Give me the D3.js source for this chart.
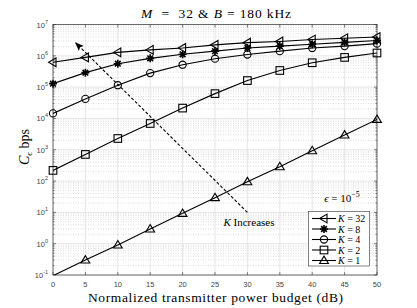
<!DOCTYPE html>
<html><head><meta charset="utf-8">
<script src="https://cdn.jsdelivr.net/npm/d3@7"></script>
<style>
body{margin:0;background:#fff;}
svg{display:block;}
</style></head>
<body>
<svg id="c" width="417" height="308"></svg>
<script>
const powerDb = [0,5,10,15,20,25,30,35,40,45,50];
const capK32 = [6.2e5,8.9e5,1.29e6,1.55e6,1.78e6,2.24e6,2.63e6,2.88e6,3.31e6,3.63e6,3.98e6];
const capK8  = [1.29e5,2.9e5,5.6e5,8.3e5,1.12e6,1.41e6,1.78e6,2.04e6,2.34e6,2.69e6,3.09e6];
const capK4  = [1.45e4,4.2e4,1.15e5,2.8e5,5.2e5,8.1e5,1.1e6,1.41e6,1.78e6,2.04e6,2.45e6];
const capK2  = [219,708,2290,6900,2.14e4,6.2e4,1.62e5,3.4e5,6.0e5,8.9e5,1.23e6];
const capK1  = [0.095,0.30,0.91,2.95,9.3,29.5,95,288,933,2950,9330];
const seriesNames = ["K = 32","K = 8","K = 4","K = 2","K = 1"];
const seriesMarkers = ["tri-left","star","circle","square","tri-up"];
const xTicks = [0,5,10,15,20,25,30,35,40,45,50];
const yTickExp = [-1,0,1,2,3,4,5,6,7];
const arrowFrom = [30, 10];
const arrowTo = [3.5, 2.6e6];

const series = [capK32,capK8,capK4,capK2,capK1];
const svg = d3.select("#c");
const L=53, R=377, T=24.5, B=275;
const x = d3.scaleLinear().domain([0,50]).range([L,R]);
const y = d3.scaleLog().domain([0.1,1e7]).range([B,T]);
const serif = "'Liberation Serif','DejaVu Serif',serif";
const sans = "'Liberation Sans',Arial,sans-serif";

function fitWidth(textSel, target){
  const node = textSel.node();
  const w = node.getComputedTextLength();
  const n = node.textContent.length;
  if (n>1) textSel.attr("letter-spacing", ((target - w)/(n-1)).toFixed(3));
}

svg.append("defs").append("clipPath").attr("id","clip")
  .append("rect").attr("x",L).attr("y",T).attr("width",R-L).attr("height",B-T);

// grid
const g = svg.append("g");
const minorVals = [];
for (let e=-1;e<7;e++) for (let m=2;m<10;m++) minorVals.push(m*Math.pow(10,e));
g.selectAll(".mg").data(minorVals).enter().append("line")
  .attr("x1",L).attr("x2",R).attr("y1",d=>y(d)).attr("y2",d=>y(d))
  .attr("stroke","#c8c8c8").attr("stroke-width",0.6).attr("stroke-dasharray","1,1.5");
g.selectAll(".gy").data(yTickExp).enter().append("line")
  .attr("x1",L).attr("x2",R).attr("y1",d=>y(Math.pow(10,d))).attr("y2",d=>y(Math.pow(10,d)))
  .attr("stroke","#e0e0e0").attr("stroke-width",0.8);
g.selectAll(".gx").data(xTicks).enter().append("line")
  .attr("y1",T).attr("y2",B).attr("x1",d=>x(d)).attr("x2",d=>x(d))
  .attr("stroke","#e0e0e0").attr("stroke-width",0.8);

// axes box & ticks
const ax = svg.append("g");
ax.append("rect").attr("x",L).attr("y",T).attr("width",R-L).attr("height",B-T)
  .attr("fill","none").attr("stroke","#333").attr("stroke-width",0.7);
xTicks.forEach(t=>{
  ax.append("line").attr("x1",x(t)).attr("x2",x(t)).attr("y1",B).attr("y2",B-3).attr("stroke","#333").attr("stroke-width",0.6);
  ax.append("line").attr("x1",x(t)).attr("x2",x(t)).attr("y1",T).attr("y2",T+3).attr("stroke","#333").attr("stroke-width",0.6);
  ax.append("text").attr("x",x(t)).attr("y",B+12).attr("text-anchor","middle")
    .attr("font-family",sans).attr("font-size",7.5).attr("fill","#444").text(t);
});
yTickExp.forEach(e=>{
  const yy=y(Math.pow(10,e));
  ax.append("line").attr("x1",L).attr("x2",L+3).attr("y1",yy).attr("y2",yy).attr("stroke","#333").attr("stroke-width",0.6);
  ax.append("line").attr("x1",R).attr("x2",R-3).attr("y1",yy).attr("y2",yy).attr("stroke","#333").attr("stroke-width",0.6);
  const t = ax.append("text").attr("x",L-5).attr("y",yy+3).attr("text-anchor","end")
    .attr("font-family",sans).attr("font-size",7.5).attr("fill","#444");
  t.append("tspan").text("10");
  t.append("tspan").attr("dy",-4).attr("font-size",5.5).text(e);
});
minorVals.forEach(v=>{
  const yy=y(v);
  ax.append("line").attr("x1",L).attr("x2",L+1.6).attr("y1",yy).attr("y2",yy).attr("stroke","#333").attr("stroke-width",0.5);
  ax.append("line").attr("x1",R).attr("x2",R-1.6).attr("y1",yy).attr("y2",yy).attr("stroke","#333").attr("stroke-width",0.5);
});

// marker drawing
function marker(sel, type, cx, cy){
  const s=4;
  if(type==="circle") sel.append("circle").attr("cx",cx).attr("cy",cy).attr("r",3.6);
  else if(type==="square") sel.append("rect").attr("x",cx-3.8).attr("y",cy-3.8).attr("width",7.6).attr("height",7.6);
  else if(type==="tri-up") sel.append("path").attr("d",`M${cx},${cy-4.4}L${cx+4.4},${cy+3}L${cx-4.4},${cy+3}Z`);
  else if(type==="tri-left") sel.append("path").attr("d",`M${cx-4.4},${cy}L${cx+3},${cy-4.4}L${cx+3},${cy+4.4}Z`);
  else if(type==="star"){
    let d="";
    for(let i=0;i<4;i++){const a=i*Math.PI/4;const dx=Math.cos(a)*s, dy=Math.sin(a)*s;d+=`M${cx-dx},${cy-dy}L${cx+dx},${cy+dy}`;}
    sel.append("path").attr("d",d).attr("stroke-width",1.6);
  }
}

const plot = svg.append("g").attr("clip-path","url(#clip)");
const line = d3.line().x((d,i)=>x(powerDb[i])).y(d=>y(d));
series.forEach((s,k)=>{
  plot.append("path").attr("d",line(s)).attr("fill","none").attr("stroke","#000").attr("stroke-width",1.1);
});
const mk = svg.append("g").attr("fill","none").attr("stroke","#000").attr("stroke-width",1.1);
series.forEach((s,k)=>{
  s.forEach((v,i)=>{ if(v>=0.1) marker(mk, seriesMarkers[k], x(powerDb[i]), y(v)); });
});

// arrow
svg.append("defs").append("marker").attr("id","ah").attr("viewBox","0 0 10 10").attr("refX",9).attr("refY",5)
  .attr("markerWidth",8).attr("markerHeight",8).attr("orient","auto")
  .append("path").attr("d","M0,1L10,5L0,9L2,5Z").attr("fill","#000");
svg.append("line").attr("x1",x(arrowFrom[0])).attr("y1",y(arrowFrom[1]))
  .attr("x2",x(arrowTo[0])).attr("y2",y(arrowTo[1]))
  .attr("stroke","#000").attr("stroke-width",1.1).attr("stroke-dasharray","3,2").attr("marker-end","url(#ah)");
const ki = svg.append("text").attr("x",249).attr("y",226).attr("text-anchor","middle")
  .attr("font-family",serif).attr("font-size",11);
ki.append("tspan").attr("font-style","italic").text("K");
ki.append("tspan").text(" Increases");

// epsilon
const ep = svg.append("text").attr("x",342).attr("y",202).attr("text-anchor","middle")
  .attr("font-family",serif).attr("font-size",11);
ep.append("tspan").attr("font-style","italic").text("ϵ");
ep.append("tspan").text(" = 10");
ep.append("tspan").attr("dy",-5).attr("font-size",8).text("−5");

// legend
const lg = svg.append("g");
lg.append("rect").attr("x",308.5).attr("y",211.5).attr("width",61).attr("height",54.5)
  .attr("fill","#fff").attr("stroke","#333").attr("stroke-width",0.6);
const lgm = lg.append("g").attr("fill","none").attr("stroke","#000").attr("stroke-width",1.1);
seriesNames.forEach((n,i)=>{
  const yy = 218.5 + i*10.5;
  lgm.append("line").attr("x1",312).attr("x2",336).attr("y1",yy).attr("y2",yy);
  marker(lgm, seriesMarkers[i], 324, yy);
  const parts = n.split(" = ");
  const t = lg.append("text").attr("x",338).attr("y",yy+3.5).attr("font-family",serif).attr("font-size",10);
  t.append("tspan").attr("font-style","italic").text(parts[0]);
  t.append("tspan").text(" = "+parts[1]);
});

// title
const tt = svg.append("text").attr("x",141).attr("y",17.5)
  .attr("font-family",serif).attr("font-size",13.5);
tt.append("tspan").attr("font-style","italic").text("M");
tt.append("tspan").text("  =  32 & ");
tt.append("tspan").attr("font-style","italic").text("B");
tt.append("tspan").text(" = 180 kHz");
tt.attr("xml:space","preserve").style("white-space","pre");
fitWidth(tt, 150);

// x label
const xl = svg.append("text").attr("x",88).attr("y",302)
  .attr("font-family",serif).attr("font-size",13.5)
  .text("Normalized transmitter power budget (dB)");
fitWidth(xl, 255);
// y label
const yl = svg.append("text").attr("transform","translate(29,147) rotate(-90)").attr("text-anchor","middle")
  .attr("font-family",serif).attr("font-size",14);
yl.append("tspan").attr("font-style","italic").text("C");
yl.append("tspan").attr("font-style","italic").attr("font-size",9).attr("dy",3).text("ϵ");
yl.append("tspan").attr("dy",-3).text(" bps");
</script>
</body></html>
